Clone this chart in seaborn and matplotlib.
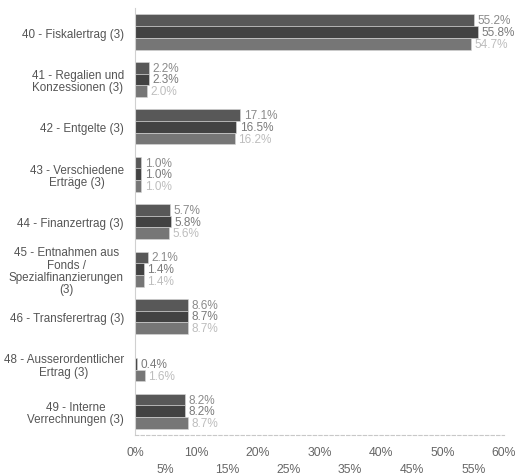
import pandas as pd
import numpy as np
import matplotlib.pyplot as plt
import seaborn as sns

categories = ['40 - Fiskalertrag (3)',
              '41 - Regalien und\nKonzessionen (3)',
              '42 - Entgelte (3)',
              '43 - Verschiedene\nErträge (3)',
              '44 - Finanzertrag (3)',
              '45 - Entnahmen aus\nFonds /\nSpezialfinanzierungen\n(3)',
              '46 - Transferertrag (3)',
              '48 - Ausserordentlicher\nErtrag (3)',
              '49 - Interne\nVerrechnungen (3)']
series_names = ['Reihe 1', 'Reihe 2', 'Reihe 3']
values_1 = [55.2, 2.2, 17.1, 1.0, 5.7, 2.1, 8.6, np.nan, 8.2]
values_2 = [55.8, 2.3, 16.5, 1.0, 5.8, 1.4, 8.7, 0.4, 8.2]
values_3 = [54.7, 2.0, 16.2, 1.0, 5.6, 1.4, 8.7, 1.6, 8.7]
x_ticks = list(range(0, 65, 5))

bar_colours = ['#585858', '#424242', '#767676']
label_colours = ['#8a8a8a', '#7a7a7a', '#bdbdbd']

df = pd.DataFrame({
    'Kategorie': categories * 3,
    'Reihe': np.repeat(series_names, len(categories)),
    'Anteil': values_1 + values_2 + values_3,
})

sns.set_style('white')
plt.rcParams['font.family'] = ['Liberation Sans', 'DejaVu Sans']

fig = plt.figure(figsize=(5.16, 4.77), dpi=100)
ax = fig.add_axes([0.2616, 0.086, 0.7151, 0.8945])

sns.barplot(data=df, x='Anteil', y='Kategorie', hue='Reihe', orient='h',
            order=categories, hue_order=series_names, palette=bar_colours,
            width=0.74, ax=ax, legend=False, errorbar=None, saturation=1,
            edgecolor='#d8d8d8', linewidth=0.4)

for cont, col in zip(ax.containers, label_colours):
    ax.bar_label(cont, labels=[f'{b.get_width():.1f}%' for b in cont],
                 padding=2.5, fontsize=8.5, color=col)

ax.set_xlim(0, 60)
ax.set_ylim(8.5, -0.5)
ax.set_xticks(x_ticks)
ax.set_xticklabels([f'{t}%' if i % 2 == 0 else f'\n{t}%' for i, t in enumerate(x_ticks)],
                   fontsize=8.8, color='#666666', linespacing=1.6)
ax.set_yticks(range(len(categories)))
ax.set_yticklabels(categories, fontsize=8.4, color='#555555', multialignment='center',
                   linespacing=1.05)
ax.tick_params(axis='y', length=0, pad=8)
ax.tick_params(axis='x', length=3, color='#bbbbbb', pad=5)
ax.set_xlabel('')
ax.set_ylabel('')

for side in ['top', 'right']:
    ax.spines[side].set_visible(False)
ax.spines['left'].set_color('#d0d0d0')
ax.spines['bottom'].set_color('#c8c8c8')
ax.spines['bottom'].set_linestyle((0, (3, 2)))

fig.savefig('out.png', dpi=100)
